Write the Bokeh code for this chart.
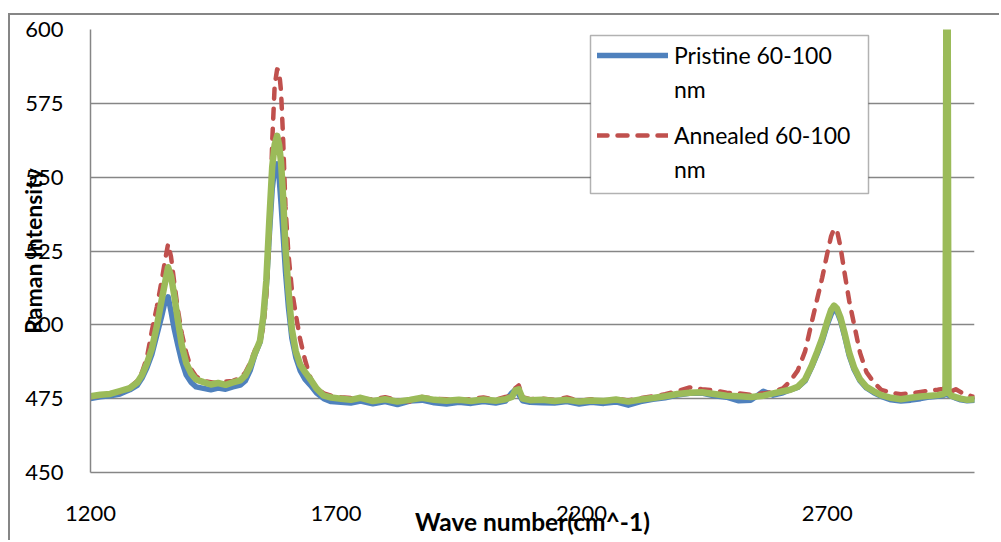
from bokeh.plotting import figure
from bokeh.models import (Range1d, FixedTicker, Legend, LegendItem, BoxAnnotation)
from bokeh.embed import file_html
from bokeh.resources import INLINE

# ---- data ----
wavenumber = [1200, 1220, 1240, 1260, 1280, 1295, 1305, 1315, 1325, 1335,
              1345, 1352, 1358, 1364, 1370, 1378, 1386, 1395, 1405, 1415,
              1430, 1445, 1460, 1475, 1490, 1505, 1515, 1525, 1535, 1545,
              1552, 1558, 1564, 1570, 1575, 1580, 1584, 1588, 1592, 1597,
              1603, 1610, 1618, 1627, 1637, 1648, 1660, 1675, 1690, 1710,
              1730, 1750, 1775, 1800, 1825, 1850, 1875, 1900, 1925, 1950,
              1975, 2000, 2025, 2045, 2058, 2065, 2072, 2080, 2095, 2120,
              2145, 2170, 2195, 2220, 2245, 2270, 2295, 2320, 2345, 2370,
              2395, 2420, 2445, 2470, 2495, 2520, 2545, 2570, 2590, 2610,
              2625, 2640, 2655, 2668, 2680, 2690, 2700, 2708, 2714, 2720,
              2727, 2735, 2745, 2755, 2767, 2780, 2795, 2810, 2830, 2850,
              2870, 2890, 2910, 2925, 2935, 2941, 2944, 2947, 2953, 2962,
              2972, 2985, 3000]

pristine = [475.0, 475.6, 476.0, 476.6, 478.0, 479.5, 482.0, 485.5, 490.0, 496.5,
            503.0, 508.0, 509.5, 504.5, 499.0, 493.0, 487.5, 483.0, 480.5, 479.0,
            478.5, 478.0, 478.6, 478.2, 479.0, 479.6, 481.0, 484.5, 490.0, 494.0,
            502.0, 513.0, 530.0, 546.0, 553.0, 554.5, 550.0, 541.0, 531.0, 518.0,
            506.0, 495.5, 489.0, 484.5, 481.5, 479.5, 477.0, 475.0, 474.0, 473.8,
            473.5, 474.2, 473.3, 474.0, 473.0, 474.2, 474.5, 473.6, 473.2, 473.8,
            473.4, 474.0, 473.5, 474.2, 477.0, 478.0, 476.5, 474.3, 473.8, 473.6,
            473.5, 474.0, 473.2, 473.8, 473.4, 473.9, 472.8, 474.0, 474.8, 475.3,
            476.2, 476.8, 476.9, 476.0, 475.5, 474.3, 474.5, 477.5, 476.2, 477.0,
            478.0, 478.8, 481.0, 485.5, 490.2, 494.5, 500.0, 503.5, 505.3, 504.5,
            501.5, 496.5, 489.5, 484.8, 481.0, 478.6, 477.0, 475.8, 474.6, 474.2,
            474.5, 475.0, 475.6, 475.8, 476.0, 476.4, 476.8, 476.2, 475.8, 475.2,
            474.6, 474.3, 474.5]

annealed = [475.5, 476.0, 476.8, 477.2, 478.8, 481.0, 484.0, 489.0, 498.0, 506.0,
            515.0, 522.0, 527.4, 523.0, 515.0, 505.0, 497.0, 490.5, 485.0, 482.5,
            481.0, 480.6, 480.2, 480.8, 481.0, 482.0, 483.8, 487.0, 491.5, 494.0,
            499.5, 510.0, 528.0, 562.0, 581.0, 586.5, 586.0, 579.0, 564.0, 540.0,
            524.0, 512.0, 503.5, 495.0, 488.0, 482.0, 478.5, 476.8, 476.0, 475.5,
            475.2, 475.0, 474.8, 475.5, 474.5, 474.0, 475.6, 475.0, 474.8, 474.2,
            474.9, 475.4, 474.6, 475.6, 476.0, 478.5, 479.5, 475.5, 474.8, 475.0,
            474.6, 475.4, 474.2, 474.8, 474.0, 475.0, 474.4, 475.2, 475.8, 476.5,
            477.5, 478.8, 478.2, 477.8, 477.0, 476.8, 476.3, 476.8, 477.3, 478.5,
            481.0, 484.5, 491.0, 500.5, 509.0, 516.0, 524.0, 530.0, 532.5, 532.0,
            526.5, 518.0, 508.0, 500.0, 490.5, 484.0, 480.5, 478.0, 477.0, 476.5,
            476.8, 477.3, 477.8, 478.0, 478.3, 478.6, 479.0, 478.0, 477.5, 478.2,
            477.2, 476.3, 475.5]

third = [475.8, 476.3, 476.6, 477.6, 478.6, 480.4, 483.0, 487.0, 492.0, 499.5,
         508.5, 514.5, 519.5, 516.5, 510.5, 501.5, 493.0, 487.0, 483.5, 481.5,
         480.6, 479.8, 480.3, 479.7, 480.5, 481.2, 482.8, 486.0, 490.5, 494.5,
         503.0, 515.0, 535.0, 553.5, 561.0, 564.0, 561.0, 555.0, 544.0, 526.0,
         512.0, 498.5, 491.0, 486.5, 484.0, 481.5, 478.5, 476.0, 475.4, 475.0,
         474.6, 475.3, 474.2, 474.8, 474.0, 474.6, 475.3, 474.6, 474.3, 474.6,
         474.2, 474.7, 474.3, 474.8, 475.6, 477.8, 478.2, 475.0, 474.5, 474.6,
         474.2, 474.6, 474.0, 474.4, 474.2, 474.7, 474.0, 474.7, 475.2, 475.8,
         476.6, 477.0, 477.2, 476.6, 476.0, 475.8, 475.6, 476.0, 476.8, 477.5,
         478.0, 479.0, 481.5, 486.0, 491.0, 495.5, 501.0, 505.0, 506.5, 505.5,
         502.5, 497.5, 490.5, 485.5, 481.5, 479.0, 477.5, 476.2, 475.3, 474.8,
         475.3, 475.7, 476.0, 476.2, 476.5, 477.0, 720.0, 477.0, 476.0, 475.5,
         475.0, 474.6, 474.8]

x_ticks = [1200, 1700, 2200, 2700]
y_ticks = [450, 475, 500, 525, 550, 575, 600]
series_names = ["Pristine 60-100", "Annealed 60-100"]
unit_line = "nm"
x_title = "Wave number(cm^-1)"
y_title = "Raman Intensity"

FONT = "Lato"
GRID = "#868686"

# canvas starts at (10, 15) of the page, after an 8/13 px margin and a 2 px border
OX, OY = 10, 15

p = figure(width=1001 - OX, height=542 - OY, output_backend="svg",
           toolbar_location=None,
           x_range=Range1d(1200, 3000), y_range=Range1d(450, 600))
p.margin = (13, 0, 0, 8)
p.styles = {"border-left": "2px solid #868686", "border-top": "2px solid #868686"}
p.min_border_left = 90 - OX
p.min_border_right = 27
p.min_border_top = 29 - OY
p.min_border_bottom = 70
p.outline_line_color = None
p.background_fill_color = "white"
p.border_fill_color = "white"

# axes
p.xaxis.ticker = FixedTicker(ticks=x_ticks)
p.yaxis.ticker = FixedTicker(ticks=y_ticks)
for ax in (p.xaxis[0], p.yaxis[0]):
    ax.axis_line_color = GRID
    ax.axis_line_width = 1.5
    ax.major_tick_line_color = None
    ax.minor_tick_line_color = None
    ax.major_tick_out = 0
    ax.major_tick_in = 0
    ax.major_label_text_font = FONT
    ax.major_label_text_font_size = "22px"
    ax.major_label_text_color = "black"
    ax.axis_label_text_font = FONT
    ax.axis_label_text_font_style = "bold"
    ax.axis_label_text_color = "black"
p.xaxis.axis_label_text_font_size = "24.5px"
p.yaxis.axis_label_text_font_size = "23px"
p.xaxis.major_label_standoff = 33
p.yaxis.major_label_standoff = 27
p.xaxis.axis_label = x_title
p.yaxis.axis_label = y_title
p.xaxis.axis_label_standoff = -17
p.yaxis.axis_label_standoff = -25

p.xgrid.grid_line_color = None
p.ygrid.grid_line_color = GRID
p.ygrid.grid_line_width = 1.5

# series
rb = p.line(wavenumber, pristine, line_color="#4F81BD", line_width=5.5,
            line_join="round", line_cap="round")
rr = p.line(wavenumber, annealed, line_color="#C0504D", line_width=4.5,
            line_dash="10 10", line_join="round", line_cap="round")
rg = p.line(wavenumber, third, line_color="#9BBB59", line_width=6.5,
            line_join="round", line_cap="round")

# legend box
p.add_layout(BoxAnnotation(left=588 - OX, right=866 - OX, top=33 - OY, bottom=191 - OY,
                           left_units="canvas", right_units="canvas",
                           top_units="canvas", bottom_units="canvas",
                           fill_color="white", fill_alpha=1,
                           line_color="black", line_width=1.5))

def make_legend(items, y):
    return Legend(items=items, location=(507, y), orientation="vertical",
                  padding=0, spacing=0, margin=0, label_height=34,
                  glyph_height=20, glyph_width=71, label_standoff=6,
                  label_text_font=FONT, label_text_font_size="23px",
                  label_text_color="black",
                  background_fill_alpha=0, border_line_alpha=0)

p.add_layout(make_legend([LegendItem(label=series_names[0], renderers=[rb]),
                          LegendItem(label=unit_line, renderers=[])], 366))
p.add_layout(make_legend([LegendItem(label=series_names[1], renderers=[rr]),
                          LegendItem(label=unit_line, renderers=[])], 286))

open("out.html", "w").write(file_html(p, INLINE))
